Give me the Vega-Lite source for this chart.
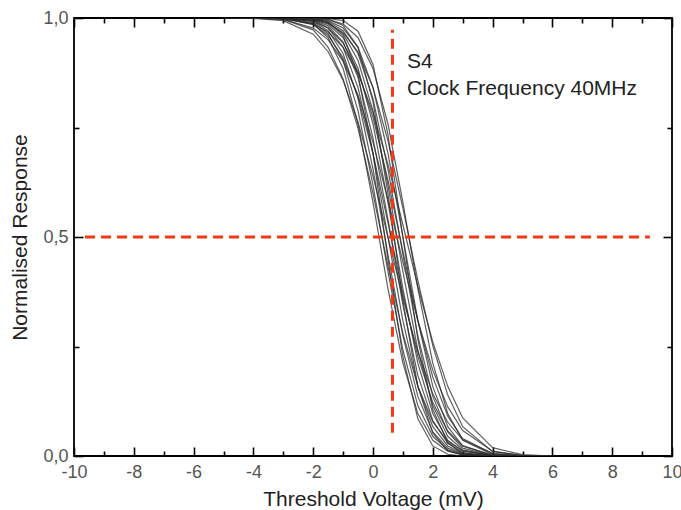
{
"$schema": "https://vega.github.io/schema/vega-lite/v6.json",
"width": 598, "height": 438, "autosize": "none",
"padding": {"left": 74, "top": 18, "right": 9, "bottom": 54},
"background": "white",
"config": {"view": {"stroke": "#000", "strokeWidth": 1.8}, "axis": {"grid": false, "labelFont": "Liberation Sans", "titleFont": "Liberation Sans", "tickColor": "#000", "domainColor": "#000", "tickWidth": 1.6, "domain": false}},
"datasets": {
"curves": [
{"c":"A","v":-4,"r":1},{"c":"A","v":-3,"r":0.999},{"c":"A","v":-2,"r":0.986},{"c":"A","v":-1.5,"r":0.955},{"c":"A","v":-1,"r":0.885},{"c":"A","v":-0.5,"r":0.758},{"c":"A","v":0,"r":0.579},{"c":"A","v":0.5,"r":0.382},{"c":"A","v":1,"r":0.212},{"c":"A","v":1.5,"r":0.097},{"c":"A","v":2,"r":0.036},{"c":"A","v":2.5,"r":0.011},{"c":"A","v":3,"r":0.003},{"c":"A","v":4,"r":0},
{"c":"B","v":-4,"r":1},{"c":"B","v":-3,"r":1},{"c":"B","v":-2,"r":0.992},{"c":"B","v":-1.5,"r":0.971},{"c":"B","v":-1,"r":0.919},{"c":"B","v":-0.5,"r":0.816},{"c":"B","v":0,"r":0.655},{"c":"B","v":0.5,"r":0.46},{"c":"B","v":1,"r":0.274},{"c":"B","v":1.5,"r":0.136},{"c":"B","v":2,"r":0.055},{"c":"B","v":2.5,"r":0.018},{"c":"B","v":3,"r":0.005},{"c":"B","v":4,"r":0},
{"c":"C","v":-3.5,"r":1},{"c":"C","v":-3,"r":1},{"c":"C","v":-2,"r":0.994},{"c":"C","v":-1.5,"r":0.977},{"c":"C","v":-1,"r":0.933},{"c":"C","v":-0.5,"r":0.841},{"c":"C","v":0,"r":0.691},{"c":"C","v":0.5,"r":0.5},{"c":"C","v":1,"r":0.309},{"c":"C","v":1.5,"r":0.159},{"c":"C","v":2,"r":0.067},{"c":"C","v":2.5,"r":0.023},{"c":"C","v":3,"r":0.006},{"c":"C","v":4,"r":0},{"c":"C","v":5,"r":0},
{"c":"D","v":-4,"r":1},{"c":"D","v":-3,"r":0.999},{"c":"D","v":-2,"r":0.995},{"c":"D","v":-1.5,"r":0.982},{"c":"D","v":-1,"r":0.945},{"c":"D","v":-0.5,"r":0.864},{"c":"D","v":0,"r":0.726},{"c":"D","v":0.5,"r":0.54},{"c":"D","v":1,"r":0.345},{"c":"D","v":1.5,"r":0.184},{"c":"D","v":2,"r":0.081},{"c":"D","v":2.5,"r":0.029},{"c":"D","v":3,"r":0.008},{"c":"D","v":4,"r":0},{"c":"D","v":5,"r":0},
{"c":"E","v":-3,"r":1},{"c":"E","v":-2,"r":0.997},{"c":"E","v":-1.5,"r":0.986},{"c":"E","v":-1,"r":0.955},{"c":"E","v":-0.5,"r":0.885},{"c":"E","v":0,"r":0.758},{"c":"E","v":0.5,"r":0.579},{"c":"E","v":1,"r":0.382},{"c":"E","v":1.5,"r":0.212},{"c":"E","v":2,"r":0.097},{"c":"E","v":2.5,"r":0.036},{"c":"E","v":3,"r":0.011},{"c":"E","v":4,"r":0.001},{"c":"E","v":5,"r":0},
{"c":"F","v":-3,"r":1},{"c":"F","v":-2,"r":0.997},{"c":"F","v":-1.5,"r":0.989},{"c":"F","v":-1,"r":0.964},{"c":"F","v":-0.5,"r":0.903},{"c":"F","v":0,"r":0.788},{"c":"F","v":0.5,"r":0.618},{"c":"F","v":1,"r":0.421},{"c":"F","v":1.5,"r":0.242},{"c":"F","v":2,"r":0.115},{"c":"F","v":2.5,"r":0.045},{"c":"F","v":3,"r":0.014},{"c":"F","v":4,"r":0.001},{"c":"F","v":5,"r":0},
{"c":"G","v":-3,"r":1},{"c":"G","v":-2,"r":0.999},{"c":"G","v":-1.5,"r":0.994},{"c":"G","v":-1,"r":0.977},{"c":"G","v":-0.5,"r":0.933},{"c":"G","v":0,"r":0.841},{"c":"G","v":0.5,"r":0.691},{"c":"G","v":1,"r":0.5},{"c":"G","v":1.5,"r":0.309},{"c":"G","v":2,"r":0.159},{"c":"G","v":2.5,"r":0.067},{"c":"G","v":3,"r":0.023},{"c":"G","v":4,"r":0.001},{"c":"G","v":5,"r":0},
{"c":"H","v":-3,"r":1},{"c":"H","v":-2,"r":0.999},{"c":"H","v":-1.5,"r":0.997},{"c":"H","v":-1,"r":0.986},{"c":"H","v":-0.5,"r":0.955},{"c":"H","v":0,"r":0.885},{"c":"H","v":0.5,"r":0.758},{"c":"H","v":1,"r":0.579},{"c":"H","v":1.5,"r":0.382},{"c":"H","v":2,"r":0.212},{"c":"H","v":2.5,"r":0.097},{"c":"H","v":3,"r":0.036},{"c":"H","v":4,"r":0.003},{"c":"H","v":5,"r":0},{"c":"H","v":5.5,"r":0},
{"c":"I","v":-4.5,"r":1},{"c":"I","v":-4,"r":1},{"c":"I","v":-3,"r":0.997},{"c":"I","v":-2,"r":0.973},{"c":"I","v":-1.5,"r":0.933},{"c":"I","v":-1,"r":0.861},{"c":"I","v":-0.5,"r":0.748},{"c":"I","v":0,"r":0.599},{"c":"I","v":0.5,"r":0.434},{"c":"I","v":1,"r":0.28},{"c":"I","v":1.5,"r":0.159},{"c":"I","v":2,"r":0.078},{"c":"I","v":2.5,"r":0.033},{"c":"I","v":3,"r":0.012},{"c":"I","v":4,"r":0.001},{"c":"I","v":5,"r":0},
{"c":"J","v":-4,"r":1},{"c":"J","v":-3,"r":0.999},{"c":"J","v":-2,"r":0.985},{"c":"J","v":-1.5,"r":0.96},{"c":"J","v":-1,"r":0.909},{"c":"J","v":-0.5,"r":0.82},{"c":"J","v":0,"r":0.691},{"c":"J","v":0.5,"r":0.533},{"c":"J","v":1,"r":0.37},{"c":"J","v":1.5,"r":0.227},{"c":"J","v":2,"r":0.122},{"c":"J","v":2.5,"r":0.057},{"c":"J","v":3,"r":0.023},{"c":"J","v":4,"r":0.002},{"c":"J","v":5,"r":0},
{"c":"K","v":-4,"r":1},{"c":"K","v":-3,"r":0.999},{"c":"K","v":-2,"r":0.992},{"c":"K","v":-1.5,"r":0.977},{"c":"K","v":-1,"r":0.943},{"c":"K","v":-0.5,"r":0.878},{"c":"K","v":0,"r":0.773},{"c":"K","v":0.5,"r":0.63},{"c":"K","v":1,"r":0.467},{"c":"K","v":1.5,"r":0.309},{"c":"K","v":2,"r":0.18},{"c":"K","v":2.5,"r":0.091},{"c":"K","v":3,"r":0.04},{"c":"K","v":4,"r":0.005},{"c":"K","v":5,"r":0},{"c":"K","v":6,"r":0},
{"c":"L","v":-3.5,"r":1},{"c":"L","v":-3,"r":1},{"c":"L","v":-2,"r":0.996},{"c":"L","v":-1.5,"r":0.988},{"c":"L","v":-1,"r":0.967},{"c":"L","v":-0.5,"r":0.922},{"c":"L","v":0,"r":0.841},{"c":"L","v":0.5,"r":0.72},{"c":"L","v":1,"r":0.566},{"c":"L","v":1.5,"r":0.401},{"c":"L","v":2,"r":0.252},{"c":"L","v":2.5,"r":0.139},{"c":"L","v":3,"r":0.067},{"c":"L","v":4,"r":0.01},{"c":"L","v":5,"r":0.001},{"c":"L","v":5.7,"r":0},
{"c":"M","v":-3,"r":1},{"c":"M","v":-2,"r":0.999},{"c":"M","v":-1.5,"r":0.991},{"c":"M","v":-1,"r":0.96},{"c":"M","v":-0.5,"r":0.87},{"c":"M","v":0,"r":0.691},{"c":"M","v":0.5,"r":0.45},{"c":"M","v":1,"r":0.227},{"c":"M","v":1.5,"r":0.085},{"c":"M","v":2,"r":0.023},{"c":"M","v":2.5,"r":0.004},{"c":"M","v":3,"r":0},{"c":"M","v":4,"r":0},
{"c":"N","v":-2.5,"r":1},{"c":"N","v":-2,"r":1},{"c":"N","v":-1.5,"r":0.997},{"c":"N","v":-1,"r":0.983},{"c":"N","v":-0.5,"r":0.933},{"c":"N","v":0,"r":0.809},{"c":"N","v":0.5,"r":0.599},{"c":"N","v":1,"r":0.354},{"c":"N","v":1.5,"r":0.159},{"c":"N","v":2,"r":0.052},{"c":"N","v":2.5,"r":0.012},{"c":"N","v":3,"r":0.002},{"c":"N","v":4,"r":0},
{"c":"O","v":-2.5,"r":1},{"c":"O","v":-2,"r":1},{"c":"O","v":-1.5,"r":0.999},{"c":"O","v":-1,"r":0.994},{"c":"O","v":-0.5,"r":0.97},{"c":"O","v":0,"r":0.894},{"c":"O","v":0.5,"r":0.734},{"c":"O","v":1,"r":0.5},{"c":"O","v":1.5,"r":0.266},{"c":"O","v":2,"r":0.106},{"c":"O","v":2.5,"r":0.03},{"c":"O","v":3,"r":0.006},{"c":"O","v":4,"r":0},
{"c":"P","v":-5,"r":1},{"c":"P","v":-4,"r":0.999},{"c":"P","v":-3,"r":0.994},{"c":"P","v":-2,"r":0.963},{"c":"P","v":-1.5,"r":0.923},{"c":"P","v":-1,"r":0.858},{"c":"P","v":-0.5,"r":0.762},{"c":"P","v":0,"r":0.639},{"c":"P","v":0.5,"r":0.5},{"c":"P","v":1,"r":0.361},{"c":"P","v":1.5,"r":0.238},{"c":"P","v":2,"r":0.142},{"c":"P","v":2.5,"r":0.077},{"c":"P","v":3,"r":0.037},{"c":"P","v":4,"r":0.006},{"c":"P","v":5,"r":0.001},{"c":"P","v":6,"r":0},
{"c":"Q","v":-5,"r":1},{"c":"Q","v":-4,"r":1},{"c":"Q","v":-3,"r":0.997},{"c":"Q","v":-2,"r":0.977},{"c":"Q","v":-1.5,"r":0.95},{"c":"Q","v":-1,"r":0.901},{"c":"Q","v":-0.5,"r":0.824},{"c":"Q","v":0,"r":0.716},{"c":"Q","v":0.5,"r":0.585},{"c":"Q","v":1,"r":0.443},{"c":"Q","v":1.5,"r":0.309},{"c":"Q","v":2,"r":0.196},{"c":"Q","v":2.5,"r":0.112},{"c":"Q","v":3,"r":0.058},{"c":"Q","v":4,"r":0.011},{"c":"Q","v":5,"r":0.001},{"c":"Q","v":6,"r":0},
{"c":"R","v":-4.5,"r":1},{"c":"R","v":-4,"r":1},{"c":"R","v":-3,"r":0.998},{"c":"R","v":-2,"r":0.987},{"c":"R","v":-1.5,"r":0.968},{"c":"R","v":-1,"r":0.933},{"c":"R","v":-0.5,"r":0.873},{"c":"R","v":0,"r":0.784},{"c":"R","v":0.5,"r":0.666},{"c":"R","v":1,"r":0.528},{"c":"R","v":1.5,"r":0.387},{"c":"R","v":2,"r":0.26},{"c":"R","v":2.5,"r":0.159},{"c":"R","v":3,"r":0.087},{"c":"R","v":4,"r":0.019},{"c":"R","v":5,"r":0.003},{"c":"R","v":6,"r":0},
{"c":"S","v":-3.5,"r":1},{"c":"S","v":-3,"r":1},{"c":"S","v":-2,"r":0.989},{"c":"S","v":-1.5,"r":0.964},{"c":"S","v":-1,"r":0.903},{"c":"S","v":-0.5,"r":0.788},{"c":"S","v":0,"r":0.618},{"c":"S","v":0.5,"r":0.421},{"c":"S","v":1,"r":0.242},{"c":"S","v":1.5,"r":0.115},{"c":"S","v":2,"r":0.045},{"c":"S","v":2.5,"r":0.014},{"c":"S","v":3,"r":0.004},{"c":"S","v":4,"r":0},
{"c":"T","v":-3,"r":1},{"c":"T","v":-2,"r":0.998},{"c":"T","v":-1.5,"r":0.992},{"c":"T","v":-1,"r":0.971},{"c":"T","v":-0.5,"r":0.919},{"c":"T","v":0,"r":0.816},{"c":"T","v":0.5,"r":0.655},{"c":"T","v":1,"r":0.46},{"c":"T","v":1.5,"r":0.274},{"c":"T","v":2,"r":0.136},{"c":"T","v":2.5,"r":0.055},{"c":"T","v":3,"r":0.018},{"c":"T","v":4,"r":0.001},{"c":"T","v":5,"r":0}
],
"hline": [{"v": -9.63, "v2": 9.26, "r": 0.5}],
"vline": [{"v": 0.65, "r": 0.053, "r2": 0.973}],
"note1": [{"v": 1.14, "r": 0.886, "label": "S4"}],
"note2": [{"v": 1.14, "r": 0.824, "label": "Clock Frequency 40MHz"}]
},
"layer": [
{"data": {"name": "curves"},
 "mark": {"type": "line", "stroke": "#2a2a2a", "strokeWidth": 1.2, "opacity": 0.75, "clip": true},
 "encoding": {
  "x": {"field": "v", "type": "quantitative", "scale": {"domain": [-10, 10], "nice": false},
        "axis": {"orient": "bottom", "values": [-10,-8,-6,-4,-2,0,2,4,6,8,10], "ticks": false, "labelPadding": 7, "labelFontSize": 18, "labelColor": "#555", "labelFlush": false, "labelOverlap": false,
                 "labelExpr": "datum.value < 0 ? '-' + (-datum.value) : '' + datum.value",
                 "title": "Threshold Voltage (mV)", "titleFontSize": 21, "titleFontWeight": "normal", "titleColor": "#222", "titlePadding": 7}},
  "y": {"field": "r", "type": "quantitative", "scale": {"domain": [0, 1], "nice": false},
        "axis": {"orient": "left", "values": [0, 0.5, 1], "ticks": false, "labelPadding": 6, "labelFontSize": 18, "labelColor": "#555", "labelFlush": false, "labelOverlap": false,
                 "labelExpr": "replace(format(datum.value, '.1f'), '.', ',')",
                 "title": "Normalised Response", "titleFontSize": 21, "titleFontWeight": "normal", "titleColor": "#222", "titlePadding": 12}},
  "detail": {"field": "c"}
 }},
{"data": {"name": "hline"},
 "mark": {"type": "rule", "color": "#f23a12", "strokeWidth": 3, "strokeDash": [10, 6]},
 "encoding": {
  "x": {"field": "v", "type": "quantitative", "axis": {"orient": "bottom", "values": [-10,-8,-6,-4,-2,0,2,4,6,8,10], "offset": -9, "tickSize": 9, "labels": false, "title": null}},
  "x2": {"field": "v2"},
  "y": {"field": "r", "type": "quantitative", "axis": {"orient": "left", "values": [0, 0.5, 1], "offset": -9, "tickSize": 9, "labels": false, "title": null}}
 }},
{"data": {"name": "vline"},
 "mark": {"type": "rule", "color": "#f23a12", "strokeWidth": 3, "strokeDash": [10, 6]},
 "encoding": {
  "x": {"field": "v", "type": "quantitative", "axis": {"orient": "bottom", "values": [-9,-7,-5,-3,-1,1,3,5,7,9], "offset": -5, "tickSize": 5, "labels": false, "title": null}},
  "y": {"field": "r", "type": "quantitative", "axis": {"orient": "left", "values": [0.25, 0.75], "offset": -5, "tickSize": 5, "labels": false, "title": null}},
  "y2": {"field": "r2"}
 }},
{"data": {"name": "note1"},
 "mark": {"type": "text", "align": "left", "baseline": "alphabetic", "font": "Liberation Sans", "fontSize": 21, "color": "#222"},
 "encoding": {
  "x": {"field": "v", "type": "quantitative", "axis": {"orient": "top", "values": [-10,-8,-6,-4,-2,0,2,4,6,8,10], "offset": -9, "tickSize": 9, "labels": false, "title": null}},
  "y": {"field": "r", "type": "quantitative", "axis": {"orient": "right", "values": [0, 0.5, 1], "offset": -9, "tickSize": 9, "labels": false, "title": null}},
  "text": {"field": "label"}
 }},
{"data": {"name": "note2"},
 "mark": {"type": "text", "align": "left", "baseline": "alphabetic", "font": "Liberation Sans", "fontSize": 21, "color": "#222"},
 "encoding": {
  "x": {"field": "v", "type": "quantitative", "axis": {"orient": "top", "values": [-9,-7,-5,-3,-1,1,3,5,7,9], "offset": -5, "tickSize": 5, "labels": false, "title": null}},
  "y": {"field": "r", "type": "quantitative", "axis": {"orient": "right", "values": [0.25, 0.75], "offset": -5, "tickSize": 5, "labels": false, "title": null}},
  "text": {"field": "label"}
 }}
],
"resolve": {"axis": {"x": "independent", "y": "independent"}}
}
